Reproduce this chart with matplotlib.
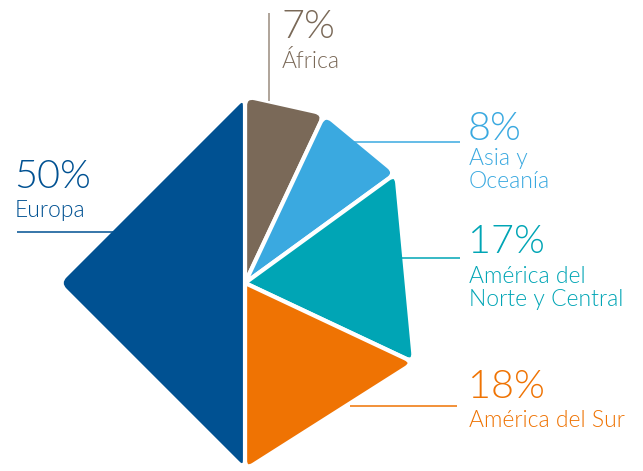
import os
import numpy as np
import matplotlib.pyplot as plt
from matplotlib import font_manager
from matplotlib.path import Path
from matplotlib.patches import PathPatch


#DATA
regions = ["África", "Asia y\nOceanía", "América del\nNorte y Central", "América del Sur", "Europa"]
shares = [7, 8, 17, 18, 50]

colors = ["#7a6958", "#3aa9e0", "#00a5b5", "#ef7303", "#005192"]
line_colors = ["#9a8c7e", "#3aa9e0", "#00a5b5", "#ef7303", "#005192"]

#LAYOUT (pixels, y down)
cx, cy, R = 245, 283, 187
label_x = [281, 468, 468, 468, 14]
pct_y = [38, 140, 253, 398, 188]
name_y = [68, 165, 283, 427, 217]
line_gap = 22.5
leaders = [
    [(269, 13), (269, 101)],
    [(352, 142), (460, 142)],
    [(400, 258), (460, 258)],
    [(350, 406), (457, 406)],
    [(17, 232), (120, 232)],
]


#pick Lato Light by file name, else plain Lato
lato_files = {os.path.basename(f.fname).lower(): f.fname
              for f in font_manager.fontManager.ttflist if f.name == "Lato"}
fname = lato_files.get("lato-light.ttf") or lato_files.get("lato-regular.ttf")
if fname:
    fp = font_manager.FontProperties(fname=fname)
else:
    fp = font_manager.FontProperties(family="DejaVu Sans")


def rounded_path(pts, cuts):
    #polygon with corners replaced by quadratic curves
    n = len(pts)
    verts, codes = [], []
    for i in range(n):
        p, a, b = pts[i], pts[i - 1], pts[(i + 1) % n]
        u1 = (a - p) / np.linalg.norm(a - p)
        u2 = (b - p) / np.linalg.norm(b - p)
        verts += [p + cuts[i] * u1, p, p + cuts[i] * u2]
        codes += [Path.MOVETO if i == 0 else Path.LINETO, Path.CURVE3, Path.CURVE3]
    verts.append(verts[0])
    codes.append(Path.CLOSEPOLY)
    return Path(verts, codes)


fig = plt.figure(figsize=(6.43, 4.71), dpi=100)
ax = fig.add_axes([0, 0, 1, 1])
ax.set_xlim(0, 643)
ax.set_ylim(471, 0)
ax.axis("off")

cum = 0
for i, share in enumerate(shares):
    a0 = 90 - 3.6 * cum
    a1 = 90 - 3.6 * (cum + share)
    cum += share
    nseg = int(np.ceil((a0 - a1) / 100))
    angs = np.radians(np.linspace(a0, a1, nseg + 1))
    pts = [np.array([cx, cy], float)]
    for t in angs:
        pts.append(np.array([cx + R * np.cos(t), cy - R * np.sin(t)]))
    cuts = [3] + [10] * len(angs)
    patch = PathPatch(rounded_path(pts, cuts), facecolor=colors[i],
                      edgecolor="white", lw=3.0, joinstyle="round", zorder=2)
    ax.add_patch(patch)

    (x0, y0), (x1, y1) = leaders[i]
    ax.plot([x0, x1], [y0, y1], color=line_colors[i], lw=1.1, zorder=3,
            solid_capstyle="butt")

    ax.text(label_x[i], pct_y[i], "%d%%" % share, color=colors[i],
            fontproperties=fp, fontsize=28.5, va="baseline", ha="left")
    for k, line in enumerate(regions[i].split("\n")):
        ax.text(label_x[i] + 1, name_y[i] + k * line_gap, line, color=colors[i],
                fontproperties=fp, fontsize=16.5, va="baseline", ha="left")

fig.savefig("out.png", dpi=100)
